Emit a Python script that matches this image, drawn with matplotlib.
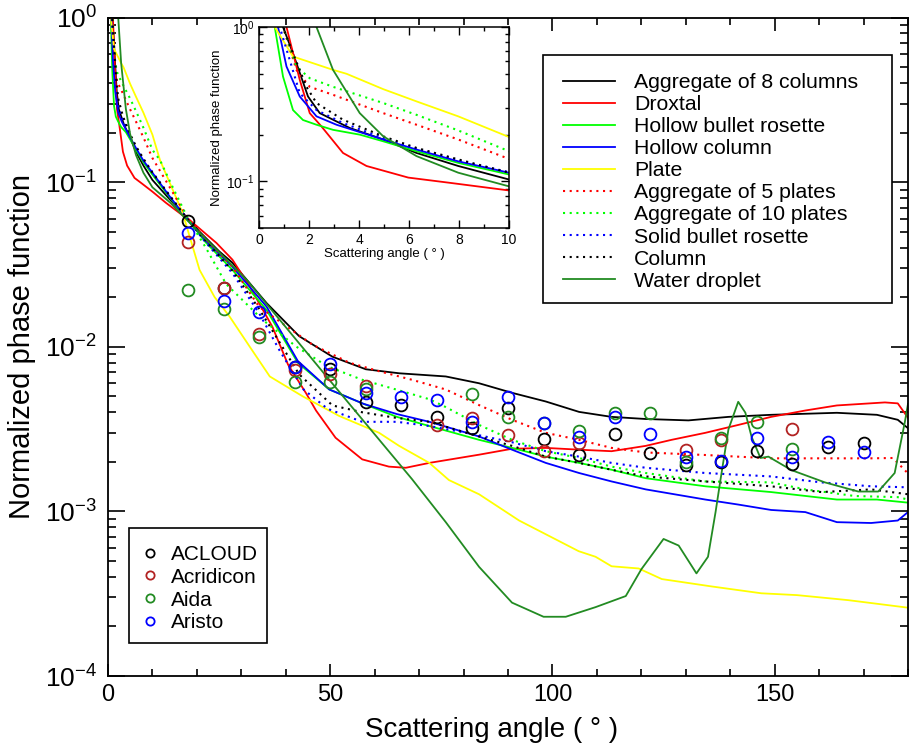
import matplotlib
matplotlib.use('Agg')
import matplotlib.pyplot as plt
import numpy as np
from matplotlib.ticker import MultipleLocator, LogLocator, NullFormatter
from matplotlib.patches import Rectangle

plt.rcParams['font.family'] = ['Liberation Sans', 'DejaVu Sans']
plt.rcParams['mathtext.fontset'] = 'custom'
plt.rcParams['mathtext.rm'] = 'Liberation Sans'
plt.rcParams['mathtext.it'] = 'Liberation Sans:italic'
plt.rcParams['mathtext.bf'] = 'Liberation Sans:bold'

# ---------------- model phase functions ----------------
agg8_angle = [0, 0.96, 1.36, 1.96, 2.43, 3.63, 4.97, 6.3, 7.97, 10, 14, 18, 20.6, 25, 28, 30.3, 35.7, 43, 50.5, 58, 65.5, 76, 83.5, 90.9, 98.5, 106, 113.3, 121, 130.6, 139.6, 149.2, 164, 173, 177.7, 180]
agg8_value = [8, 1.0, 0.676, 0.355, 0.277, 0.222, 0.187, 0.153, 0.126, 0.103, 0.078, 0.060, 0.050, 0.038, 0.0324, 0.0273, 0.0184, 0.0116, 0.0087, 0.0073, 0.0069, 0.0066, 0.0060, 0.00525, 0.00465, 0.00402, 0.00375, 0.00364, 0.00357, 0.00375, 0.00386, 0.00397, 0.00386, 0.0036, 0.0032]

droxtal_angle = [0, 1.1, 1.63, 2.03, 2.5, 3.36, 4.3, 5.97, 7.64, 10, 13, 16.6, 18, 24.4, 28, 31.9, 37, 40.5, 44.6, 46.8, 51.2, 57.2, 63.2, 67, 72.3, 83.5, 90.9, 98.5, 106, 113.3, 121, 126.8, 134.4, 141.8, 149.2, 156.9, 164, 174.8, 177.7, 180]
droxtal_value = [10, 1.0, 0.455, 0.277, 0.227, 0.153, 0.126, 0.106, 0.098, 0.0875, 0.075, 0.0634, 0.060, 0.0427, 0.0338, 0.0232, 0.0132, 0.0078, 0.0052, 0.0041, 0.0028, 0.00207, 0.00187, 0.00184, 0.00197, 0.00221, 0.0024, 0.00243, 0.00237, 0.00232, 0.0025, 0.00272, 0.0030, 0.00335, 0.00375, 0.0041, 0.0044, 0.00459, 0.00453, 0.0037]

hbr_angle = [0, 0.63, 0.96, 1.36, 1.76, 2.3, 2.96, 4.03, 4.97, 6.3, 7.97, 10, 14, 18, 22, 28, 35.7, 42.7, 49.8, 57.5, 65, 72.3, 83.5, 90.9, 98.5, 106, 113.3, 121, 134.4, 149.2, 164, 173, 180]
hbr_value = [5, 1.0, 0.478, 0.29, 0.25, 0.233, 0.216, 0.201, 0.182, 0.157, 0.132, 0.111, 0.080, 0.059, 0.043, 0.0293, 0.0167, 0.0080, 0.0055, 0.0045, 0.00375, 0.0033, 0.00272, 0.00243, 0.00215, 0.00197, 0.00179, 0.00159, 0.00142, 0.00131, 0.00118, 0.00118, 0.00113]

hcol_angle = [0, 0.76, 1.1, 1.63, 2.3, 3.1, 4.97, 6.3, 7.97, 10, 14, 18, 22, 28, 35.7, 42.7, 49.8, 57.5, 65, 72.3, 83.5, 90.9, 98.5, 106, 113.3, 121, 134.4, 141.8, 149.2, 156.9, 164, 171.7, 177.7, 180]
hcol_value = [6, 1.0, 0.555, 0.355, 0.264, 0.233, 0.187, 0.161, 0.135, 0.114, 0.081, 0.059, 0.044, 0.0306, 0.0175, 0.0082, 0.0055, 0.0045, 0.0039, 0.0035, 0.00285, 0.00237, 0.00197, 0.00171, 0.00152, 0.00136, 0.00118, 0.0011, 0.00102, 0.00099, 0.00086, 0.00085, 0.00088, 0.00099]

plate_angle = [0, 0.63, 1.36, 2.96, 3.5, 4.97, 6.3, 7.97, 10, 11.7, 16.8, 20.6, 24, 27.4, 31.9, 36.4, 43.8, 52, 61, 65.5, 72.3, 76.7, 83.5, 92.5, 105.9, 109.7, 113.3, 119.4, 124.6, 135.8, 147, 155, 166.5, 180]
plate_value = [3, 1.0, 0.644, 0.528, 0.498, 0.396, 0.33, 0.264, 0.194, 0.136, 0.065, 0.0293, 0.020, 0.0152, 0.0100, 0.0066, 0.0050, 0.0038, 0.0030, 0.0025, 0.00197, 0.00155, 0.00127, 0.00088, 0.000573, 0.00053, 0.000464, 0.00045, 0.000388, 0.00035, 0.000318, 0.00031, 0.000289, 0.00026]

agg5_angle = [0, 0.96, 1.5, 2.03, 2.96, 4.97, 6.3, 7.97, 10, 14, 18, 22, 28, 34, 39, 46, 54.3, 61, 68.4, 76, 83.5, 90.9, 98.5, 106, 113.3, 121, 134.4, 149.2, 156.9, 171.7, 176.6, 180]
agg5_value = [6, 1.0, 0.527, 0.41, 0.364, 0.277, 0.233, 0.187, 0.140, 0.092, 0.060, 0.045, 0.0306, 0.0175, 0.0140, 0.0103, 0.0080, 0.0071, 0.0063, 0.0055, 0.00442, 0.0036, 0.0030, 0.00272, 0.00243, 0.00228, 0.0022, 0.0021, 0.0021, 0.0021, 0.00211, 0.0017]

agg10_angle = [0, 0.96, 1.5, 2.03, 2.96, 4.97, 6.3, 7.97, 10, 11.7, 14, 18, 22, 26.6, 34.9, 42.4, 49.4, 57.2, 64.8, 72.3, 76, 83.5, 90.9, 98.5, 106, 113.3, 121, 134.4, 149.2, 156.9, 168, 177.7, 180]
agg10_value = [6, 1.0, 0.555, 0.466, 0.41, 0.322, 0.27, 0.214, 0.157, 0.136, 0.10, 0.060, 0.040, 0.0240, 0.0145, 0.0100, 0.0076, 0.0063, 0.0055, 0.0048, 0.0043, 0.00335, 0.00272, 0.00232, 0.00211, 0.00187, 0.00171, 0.00152, 0.0015, 0.00136, 0.00124, 0.00122, 0.00118]

sbr_angle = [0, 0.83, 1.63, 2.3, 3.36, 4.97, 6.3, 7.97, 10, 14, 18, 22, 28, 34, 38.6, 44, 49.4, 57.2, 65, 72.3, 83.5, 90.9, 98.5, 106, 113.3, 121, 134.4, 149.2, 160.5, 171.7, 180]
sbr_value = [6, 1.0, 0.373, 0.29, 0.239, 0.191, 0.163, 0.137, 0.115, 0.082, 0.059, 0.043, 0.028, 0.016, 0.0095, 0.0055, 0.0042, 0.0035, 0.0035, 0.0033, 0.0029, 0.00263, 0.00232, 0.00215, 0.00197, 0.00184, 0.00171, 0.00163, 0.0015, 0.00142, 0.0014]

col_angle = [0, 0.96, 1.36, 1.9, 2.3, 3.36, 4.97, 6.3, 7.97, 10, 14, 18, 22, 28, 34, 43, 50.5, 57.2, 64.8, 72.3, 83.5, 90.9, 98.5, 106, 113.3, 121, 134.4, 149.2, 160.5, 171.7, 180]
col_value = [6, 1.0, 0.676, 0.41, 0.322, 0.251, 0.196, 0.165, 0.139, 0.114, 0.082, 0.059, 0.044, 0.029, 0.017, 0.0068, 0.0044, 0.0040, 0.0037, 0.0035, 0.00285, 0.0025, 0.00215, 0.00197, 0.00179, 0.00163, 0.00152, 0.00142, 0.00131, 0.00136, 0.00127]

water_angle = [0, 2.3, 2.96, 4.03, 4.97, 6.3, 7.97, 10, 14, 18, 31.2, 50, 68.4, 76, 83.5, 90.9, 98, 103, 109.7, 116.5, 120, 125, 128.4, 132.4, 135, 136.7, 137.8, 139.6, 141.8, 143.4, 144.8, 146.8, 148.6, 153.8, 161.3, 168.8, 173.3, 177, 179.3, 180]
water_value = [50, 1.0, 0.528, 0.277, 0.196, 0.146, 0.114, 0.093, 0.075, 0.058, 0.0255, 0.0062, 0.00157, 0.00086, 0.00046, 0.000279, 0.000229, 0.000229, 0.000262, 0.000306, 0.000445, 0.00068, 0.00062, 0.00042, 0.00053, 0.00099, 0.00155, 0.00315, 0.00463, 0.00398, 0.00284, 0.00211, 0.00215, 0.00178, 0.0015, 0.00132, 0.00132, 0.00171, 0.0035, 0.0045]

series_labels = ['Aggregate of 8 columns', 'Droxtal', 'Hollow bullet rosette', 'Hollow column', 'Plate',
                 'Aggregate of 5 plates', 'Aggregate of 10 plates', 'Solid bullet rosette', 'Column', 'Water droplet']
series_angles = [agg8_angle, droxtal_angle, hbr_angle, hcol_angle, plate_angle,
                 agg5_angle, agg10_angle, sbr_angle, col_angle, water_angle]
series_values = [agg8_value, droxtal_value, hbr_value, hcol_value, plate_value,
                 agg5_value, agg10_value, sbr_value, col_value, water_value]
series_colors = ['black', '#ff0000', '#00ff00', '#0000ff', '#ffff00',
                 '#ff0000', '#00ff00', '#0000ff', 'black', '#228b22']
series_styles = ['-', '-', '-', '-', '-', 'dot', 'dot', 'dot', 'dot', '-']

# ---------------- campaign measurements ----------------
campaign_angles = [18, 26, 34, 42, 50, 58, 66, 74, 82, 90, 98, 106, 114, 122, 130, 138, 146, 154, 162, 170]
nan = np.nan
acloud = [0.0581, 0.0228, nan, 0.00755, 0.00734, 0.00463, 0.00444, 0.00375, 0.00322, 0.00426, 0.00276, 0.00221,
          0.00296, 0.00227, 0.00192, 0.0020, 0.00233, 0.00195, 0.00247, 0.00261]
acridicon = [0.0433, 0.0228, 0.01197, 0.00724, 0.00685, 0.00579, nan, 0.00335, 0.0037, 0.00292, 0.00233, 0.00261,
             nan, nan, 0.00237, 0.00272, nan, 0.00317, nan, nan]
aida = [0.02215, 0.0170, 0.01148, 0.00612, 0.00612, 0.00555, nan, nan, 0.00518, 0.00375, 0.00345, 0.00309,
        0.00397, 0.00397, 0.0020, 0.0028, 0.0035, 0.0024, nan, nan]
aristo = [0.0491, 0.0190, 0.0163, 0.00755, 0.00787, 0.00525, 0.00496, 0.00476, 0.0035, 0.00496, 0.00345, 0.00284,
          0.00375, 0.00296, 0.00215, 0.00203, 0.0028, 0.00215, 0.00265, 0.0023]
campaign_labels = ['ACLOUD', 'Acridicon', 'Aida', 'Aristo']
campaign_values = [acloud, acridicon, aida, aristo]
campaign_colors = ['black', '#b22222', '#228b22', '#0000ff']

x_major = [0, 50, 100, 150]
inset_x_major = [0, 2, 4, 6, 8, 10]

W, H = 909, 744
# ---------------- figure ----------------
fig = plt.figure(figsize=(W/100, H/100), dpi=100)
ax = fig.add_axes([108/W, 1-676/H, 800/W, (676-17.5)/H])

def draw_series(a, lw):
    handles = []
    for ang, val, lab, col, sty in zip(series_angles, series_values, series_labels, series_colors, series_styles):
        if sty == 'dot':
            h, = a.plot(ang, val, color=col, lw=lw+0.2, linestyle=(0, (1, 2.2)), label=lab)
            h.set_dash_capstyle('butt')
        else:
            h, = a.plot(ang, val, color=col, lw=lw, linestyle='-', label=lab)
        handles.append(h)
    return handles

line_handles = draw_series(ax, 1.3)

scatter_handles = []
for lab, vals, col in zip(campaign_labels, campaign_values, campaign_colors):
    h, = ax.plot(campaign_angles, vals, linestyle='none', marker='o', markersize=8.5,
                 markerfacecolor='none', markeredgecolor=col, markeredgewidth=1.3, label=lab)
    scatter_handles.append(h)

ax.set_yscale('log')
ax.set_xlim(0, 180)
ax.set_ylim(1e-4, 1)
ax.set_xticks(x_major)
ax.xaxis.set_minor_locator(MultipleLocator(10))
ax.yaxis.set_major_locator(LogLocator(base=10, numticks=10))
ax.yaxis.set_minor_locator(LogLocator(base=10, subs=np.arange(2, 10), numticks=20))
ax.yaxis.set_minor_formatter(NullFormatter())
ax.tick_params(which='both', direction='in', top=True, right=True, width=1.2)
ax.tick_params(axis='y', which='major', length=12, labelsize=19, pad=8)
ax.tick_params(axis='y', which='minor', length=6)
ax.tick_params(axis='x', which='major', length=9, labelsize=17, pad=6)
ax.tick_params(axis='x', which='minor', length=5)
for s in ax.spines.values():
    s.set_linewidth(1.3)
ax.set_xlabel('Scattering angle ( ° )', fontsize=20)
ax.xaxis.set_label_coords(86.3/180, -0.062)
ax.set_ylabel('Normalized phase function', fontsize=21, labelpad=6)

# legend of model curves (frame drawn separately to match the box)
fr1 = Rectangle((543/W, 1-303/H), (892-543)/W, (303-55)/H, transform=fig.transFigure,
                facecolor='white', edgecolor='black', lw=1.2, zorder=4.8, clip_on=False)
ax.add_patch(fr1)
leg1 = ax.legend(handles=line_handles, loc='upper left', bbox_to_anchor=(563/W, 1-73/H),
                 bbox_transform=fig.transFigure, fontsize=15.3, frameon=False,
                 handlelength=2.45, handletextpad=0.9, labelspacing=0.145, borderpad=0, borderaxespad=0)
leg1.set_zorder(5)
ax.add_artist(leg1)

fr2 = Rectangle((129/W, 1-643/H), (267-129)/W, (643-528)/H, transform=fig.transFigure,
                facecolor='white', edgecolor='black', lw=1.2, zorder=4.8, clip_on=False)
ax.add_patch(fr2)
leg2 = ax.legend(handles=scatter_handles, loc='upper left', bbox_to_anchor=(144/W, 1-545/H),
                 bbox_transform=fig.transFigure, fontsize=15, frameon=False,
                 handlelength=0.6, handletextpad=0.7, labelspacing=0.18, borderpad=0,
                 borderaxespad=0, markerscale=0.7)
leg2.set_zorder(5)

# ---------------- inset ----------------
axi = fig.add_axes([259/W, 1-228/H, 250/W, 201/H])
axi.set_facecolor('white')
draw_series(axi, 1.3)
axi.set_yscale('log')
axi.set_xlim(0, 10)
axi.set_ylim(0.05, 1)
axi.set_xticks(inset_x_major)
axi.xaxis.set_minor_locator(MultipleLocator(1))
axi.yaxis.set_major_locator(LogLocator(base=10, numticks=10))
axi.yaxis.set_minor_locator(LogLocator(base=10, subs=np.arange(2, 10), numticks=20))
axi.yaxis.set_minor_formatter(NullFormatter())
axi.tick_params(which='both', direction='in', top=True, right=True, width=1.0, labelsize=10)
axi.tick_params(which='major', length=6)
axi.tick_params(which='minor', length=3)
for s in axi.spines.values():
    s.set_linewidth(1.1)
axi.set_xlabel('Scattering angle ( ° )', fontsize=9.5, labelpad=1)
axi.set_ylabel('Normalized phase function', fontsize=9.5, labelpad=2)

fig.savefig('out.png', dpi=100)
